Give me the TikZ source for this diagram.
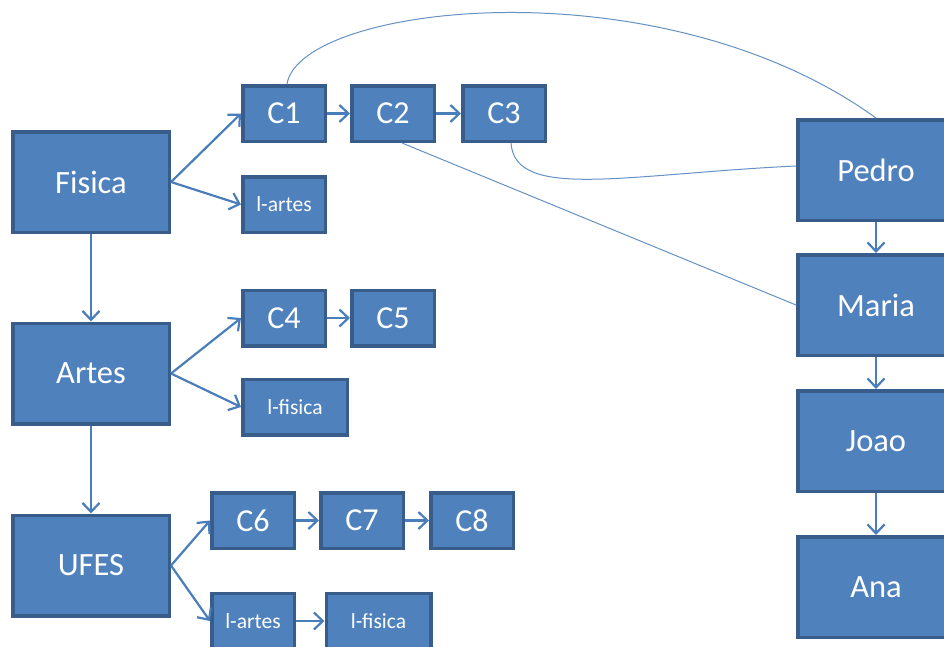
\documentclass[tikz,border=0pt]{standalone}
\usepackage{fontspec}
\setmainfont{Carlito}
\usetikzlibrary{arrows.meta}
\definecolor{boxfill}{HTML}{4F81BD}
\definecolor{boxline}{HTML}{385D8A}
\definecolor{linkcol}{HTML}{4A7EBB}

\begin{document}
\begin{tikzpicture}[x=1pt,y=-1pt]
\tikzset{ box/.style={draw=boxline, fill=boxfill, line width=3.5pt, text=white, inner sep=0pt},
  big/.style={box, minimum width=156.5pt, minimum height=100.5pt, font=\fontsize{32.5}{36}\selectfont},
  small/.style={box, minimum width=82.5pt, minimum height=55.5pt, font=\fontsize{32}{36}\selectfont},
  label/.style={box, minimum height=55.5pt, font=\fontsize{21.5}{24}\selectfont},
  arr/.style={->, >={Straight Barb[length=9pt,width=17pt]}, draw=linkcol, line width=2.2pt},
  link/.style={draw=linkcol!85, line width=1pt}}
\clip (0,0) rectangle (944,646);

\node[big] (fisica) at (91,182) {Fisica};
\node[big] (artes) at (91,373.5) {Artes};
\node[big] (ufes) at (91,565.5) {UFES};

\node[small] (c1) at (284,113.5) {C1};
\node[small] (c2) at (393,113.5) {C2};
\node[small] (c3) at (504,113.5) {C3};
\node[label, minimum width=82.5pt] (lartesa) at (284,204.5) {l-artes};

\node[small] (c4) at (284,318) {C4};
\node[small] (c5) at (393,318) {C5};
\node[label, minimum width=104.5pt] (lfisicaa) at (295,407) {l-fisica};

\node[small] (c6) at (253,520.5) {C6};
\node[small] (c7) at (362,520.5) {C7};
\node[small] (c8) at (472,520.5) {C8};
\node[label, minimum width=82.5pt] (lartesb) at (253,621) {l-artes};
\node[label, minimum width=104.5pt] (lfisicab) at (378.5,621) {l-fisica};

\node[big] (pedro) at (876,170) {Pedro};
\node[big] (maria) at (876,305) {Maria};
\node[big] (joao) at (876,441) {Joao};
\node[big] (ana) at (876,587) {Ana};

\draw[arr] (fisica) -- (artes);
\draw[arr] (artes) -- (ufes);
\draw[arr] (fisica.east) -- (c1.west);
\draw[arr] (fisica.east) -- (lartesa.west);
\draw[arr] (artes.east) -- (c4.west);
\draw[arr] (artes.east) -- (lfisicaa.west);
\draw[arr] (ufes.east) -- (c6.west);
\draw[arr] (ufes.east) -- (lartesb.west);

\draw[arr] (c1) -- (c2);
\draw[arr] (c2) -- (c3);
\draw[arr] (c4) -- (c5);
\draw[arr] (c6) -- (c7);
\draw[arr] (c7) -- (c8);
\draw[arr] (lartesb) -- (lfisicab);

\draw[arr] (pedro) -- (maria);
\draw[arr] (maria) -- (joao);
\draw[arr] (joao) -- (ana);

\draw[link] ([xshift=3pt]c1.north) .. controls +(13,-80) and +(-216,-156) .. (pedro.north);
\draw[link] ([xshift=7pt]c3.south) .. controls +(4,58) and +(-170,8) .. ([yshift=4pt]pedro.west);
\draw[link] ([xshift=9pt]c2.south) -- (maria.west);
\end{tikzpicture}
\end{document}
